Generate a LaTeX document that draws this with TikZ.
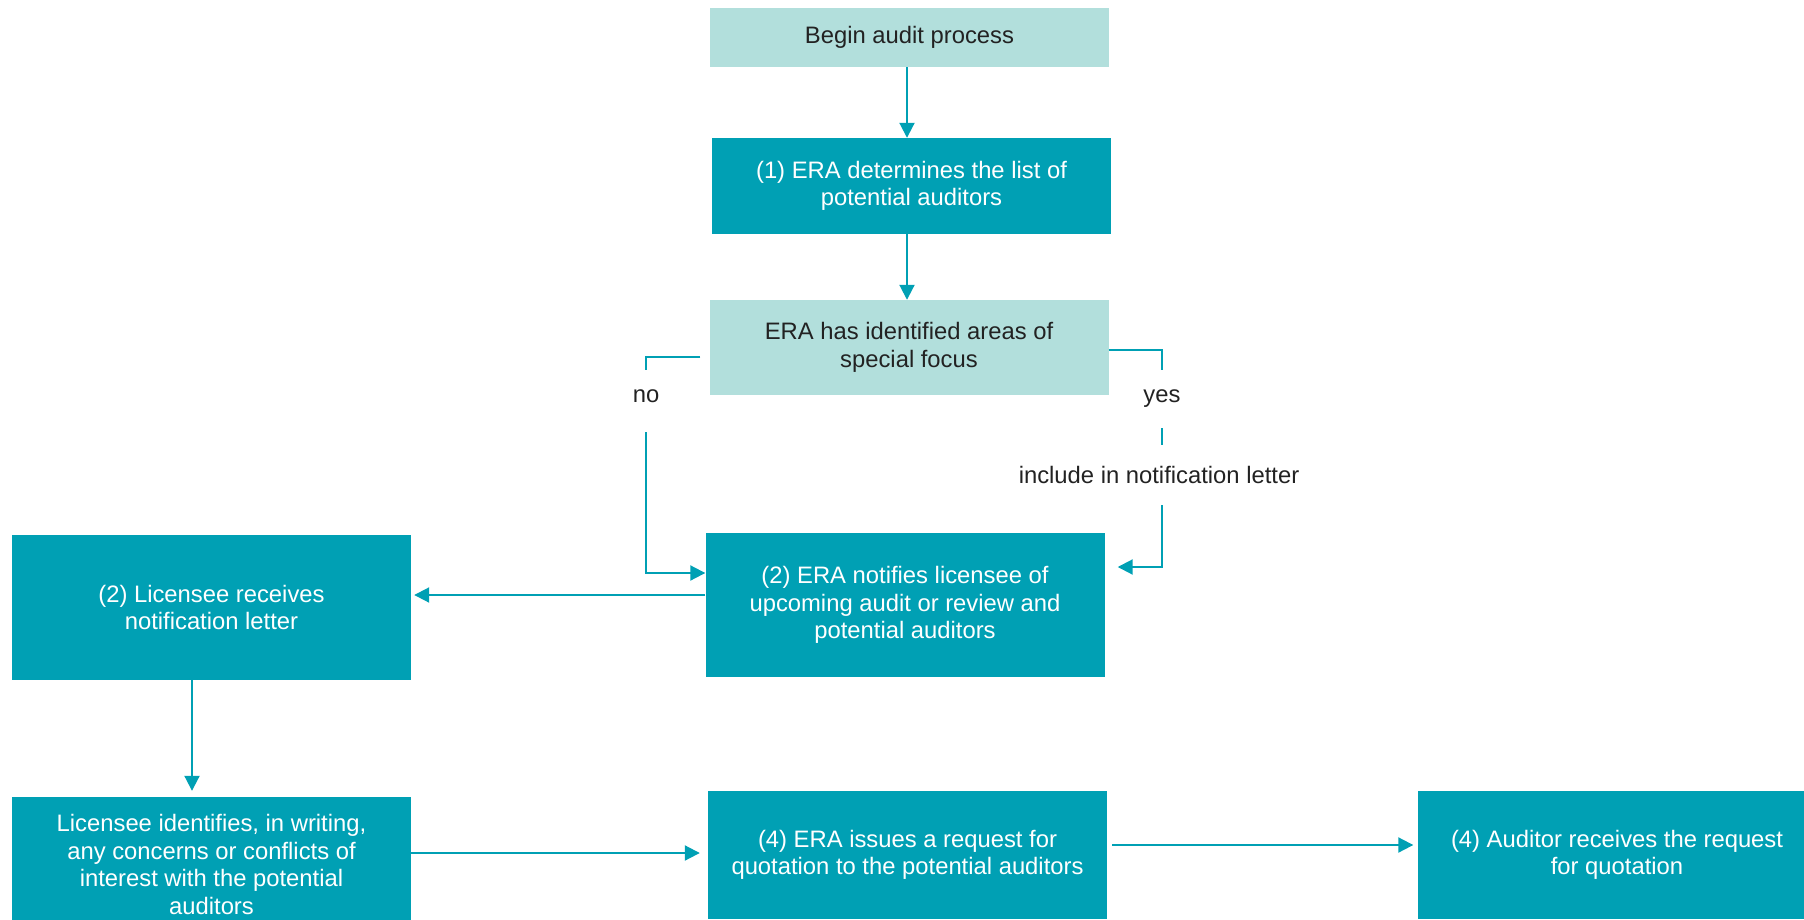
\documentclass[tikz,border=0pt]{standalone}
\usepackage{fontspec}
\setmainfont{Liberation Sans}
\usetikzlibrary{arrows.meta}
\definecolor{paleteal}{RGB}{178,223,220}
\definecolor{deepteal}{RGB}{0,160,180}
\definecolor{inkgray}{RGB}{34,34,34}
\begin{document}
\begin{tikzpicture}[x=1pt,y=-1pt,
    every node/.style={font=\fontsize{23.8}{27.5}\selectfont,align=center,inner sep=0pt},
    startbox/.style={fill=paleteal,text=inkgray,minimum width=399,minimum height=#1},
    actbox/.style={fill=deepteal,text=white,minimum width=399,minimum height=#1},
    lbl/.style={text=inkgray,minimum height=#1},
    flow/.style={draw=deepteal,line width=2pt},
    arr/.style={flow,-{Triangle[length=15pt,width=15pt]}}]
      \clip (0,0) rectangle (1804,920);
      \node[startbox=59] (begin) at (909.5,37.5) {Begin audit process};
      \node[actbox=96] (list) at (911.5,186) {(1) ERA determines the list of\\potential auditors};
      \node[startbox=95] (focus) at (909,347.5) {ERA has identified areas of\\special focus};
      \node[actbox=144] (notify) at (905,605) {(2) ERA notifies licensee of\\upcoming audit or review and\\potential auditors};
      \node[actbox=145] (receive) at (211.5,607.5) {(2) Licensee receives\\notification letter};
      \node[actbox=135] (concern) at (211.5,864.5) {Licensee identifies, in writing,\\any concerns or conflicts of\\interest with the potential\\auditors};
      \node[actbox=128] (request) at (907.5,855) {(4) ERA issues a request for\\quotation to the potential auditors};
      \node[actbox=128] (auditor) at (1617,855) {(4) Auditor receives the request\\for quotation};
      \node[lbl=52] (no) at (646,396) {no};
      \node[lbl=58] (yes) at (1162,399) {yes};
      \node[lbl=60] (include) at (1159,475) {include in notification letter};

      \draw[arr] ([xshift=-2.5]begin.south) -- ([xshift=-2.5]begin.south |- list.north);
      \draw[arr] ([xshift=-4.5]list.south) -- ([xshift=-4.5]list.south |- focus.north);
      \draw[flow,shorten <=9] ([yshift=-9.5]focus.west) -| (no.north);
      \draw[arr] ([yshift=-10]no.south) |- ([yshift=32]notify.west);
      \draw[flow] ([yshift=-2.5]focus.east) -| (yes.north);
      \draw[flow] (yes.south) -- (yes.south |- include.north);
      \draw[arr,shorten >=13] (yes.south |- include.south) |- ([yshift=38]notify.east);
      \draw[arr,shorten >=3] ([yshift=10]notify.west) -- ([yshift=10]notify.west -| receive.east);
      \draw[arr,shorten >=6] ([xshift=-19.5]receive.south) -- ([xshift=-19.5]receive.south |- concern.north);
      \draw[arr,shorten >=8] ([yshift=11.5]concern.east) -- ([yshift=11.5]concern.east -| request.west);
      \draw[arr,shorten <=5,shorten >=4] ([yshift=10]request.east) -- ([yshift=10]request.east -| auditor.west);
\end{tikzpicture}
\end{document}
